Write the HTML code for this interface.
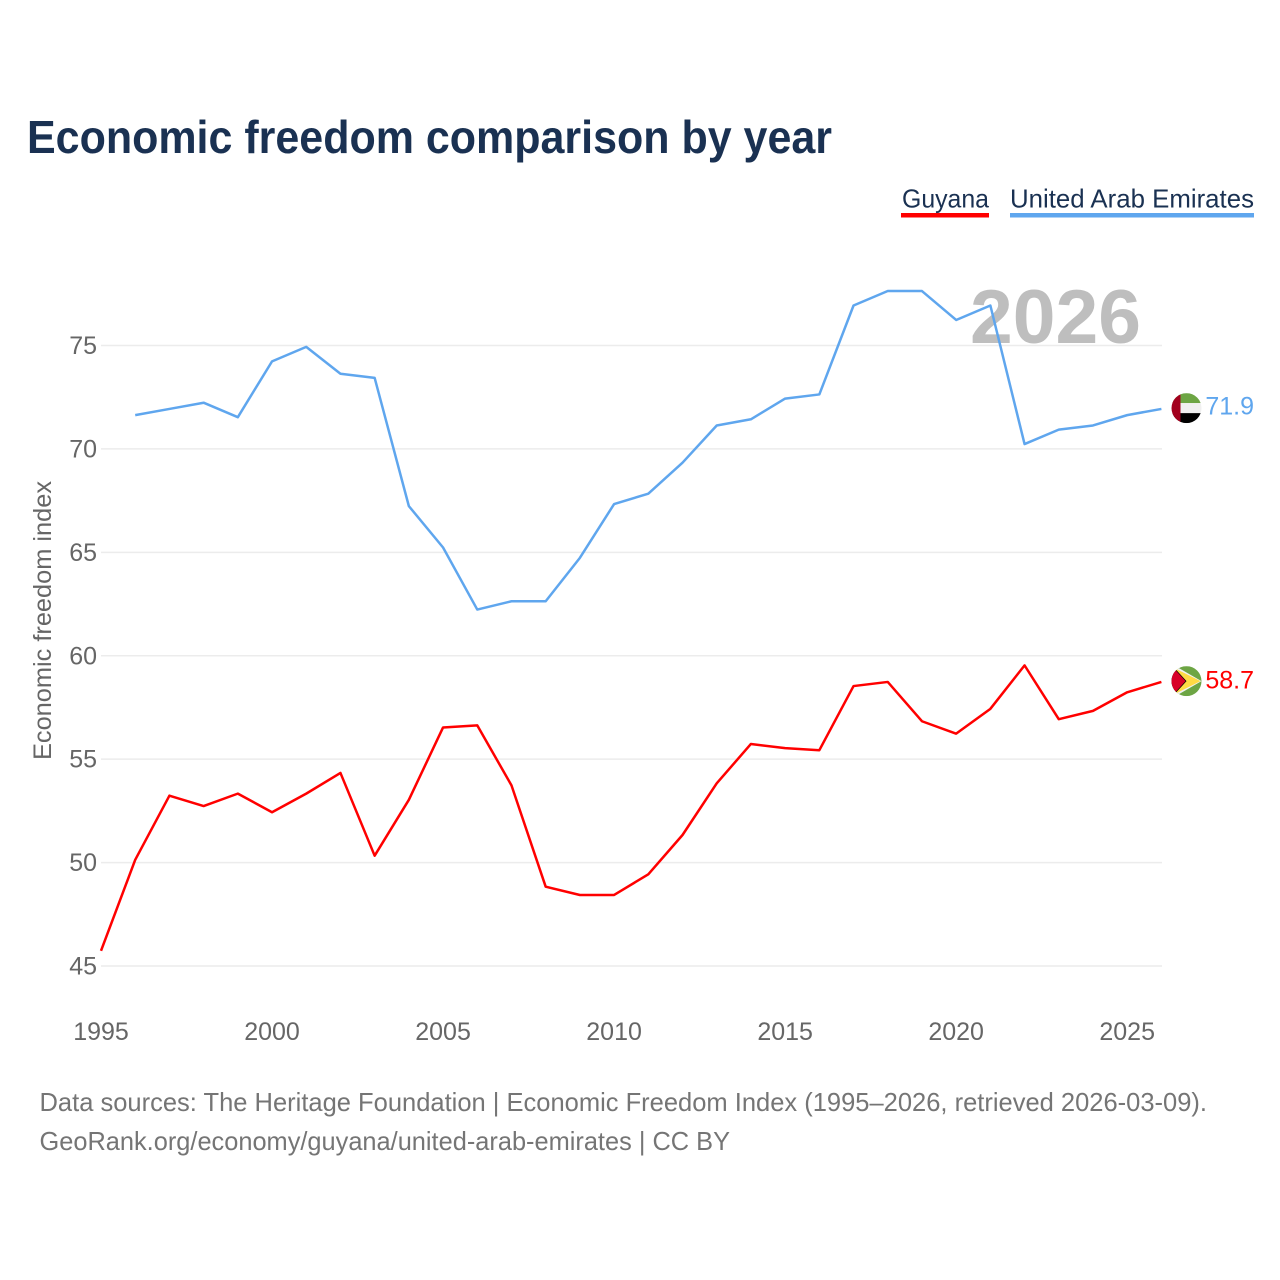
<!DOCTYPE html>
<html lang="en">
<head>
<meta charset="utf-8">
<title>Economic freedom comparison by year</title>
<style>
html,body{margin:0;padding:0;background:#fff;}
svg{display:block;font-family:"Liberation Sans",Arial,sans-serif;}
</style>
</head>
<body>
<svg id="chart" xmlns="http://www.w3.org/2000/svg" width="1280" height="1280" viewBox="0 0 1280 1280">
  <rect x="0" y="0" width="1280" height="1280" fill="#ffffff"/>
  <text x="27" y="153" font-size="46" font-weight="700" fill="#1a3152" textLength="805" lengthAdjust="spacingAndGlyphs">Economic freedom comparison by year</text>

  <g>
    <text x="902" y="207.5" font-size="26" fill="#1a3152" textLength="87" lengthAdjust="spacingAndGlyphs">Guyana</text>
    <rect x="901" y="213" width="88" height="4.5" fill="#ff0000"/>
  </g>
  <g>
    <text x="1010" y="207.5" font-size="26" fill="#1a3152" textLength="244" lengthAdjust="spacingAndGlyphs">United Arab Emirates</text>
    <rect x="1010" y="213" width="244" height="4.5" fill="#5fa6ee"/>
  </g>

  <g id="grid"></g>
  <text x="970" y="343" font-size="76" font-weight="700" fill="#bebebe" textLength="171" lengthAdjust="spacingAndGlyphs">2026</text>
  <g id="yticks"></g>
  <g id="xticks"></g>
  <text transform="translate(51,620.5) rotate(-90)" font-size="25" fill="#666666" text-anchor="middle" textLength="279" lengthAdjust="spacingAndGlyphs">Economic freedom index</text>
  <g id="lines"></g>

  <defs>
    <clipPath id="clip-flag"><circle cx="0" cy="0" r="15"/></clipPath>
  </defs>

  <g id="flag-uae">
    <g clip-path="url(#clip-flag)">
      <rect x="-15" y="-15" width="30" height="10" fill="#6da544"/>
      <rect x="-15" y="-5" width="30" height="10" fill="#f0f0f0"/>
      <rect x="-15" y="5" width="30" height="10" fill="#000000"/>
      <rect x="-15" y="-15" width="9" height="30" fill="#a2001d"/>
    </g>
  </g>
  <g id="flag-guyana">
    <g clip-path="url(#clip-flag)">
      <rect x="-15" y="-15" width="30" height="30" fill="#6da544"/>
      <polygon points="-15,-15 -11,-15 15,0 -11,15 -15,15" fill="#f0f0f0"/>
      <polygon points="-12,-13 14,0 -12,13" fill="#ffda44"/>
      <polygon points="-15,-13 -11,-12 0,0 -11,12 -15,13" fill="#000000"/>
      <polygon points="-15,-11 -11,-11 -1,0 -11,11 -15,11" fill="#d80027"/>
    </g>
  </g>
  <text id="value-uae" x="1254" font-size="25" fill="#5fa6ee" text-anchor="end"></text>
  <text id="value-guyana" x="1254" font-size="25" fill="#ff0000" text-anchor="end"></text>

  <text x="39.5" y="1111" font-size="26" fill="#757575" textLength="1167.5" lengthAdjust="spacingAndGlyphs">Data sources: The Heritage Foundation | Economic Freedom Index (1995–2026, retrieved 2026-03-09).</text>
  <text x="39.5" y="1150" font-size="26" fill="#757575" textLength="690.5" lengthAdjust="spacingAndGlyphs">GeoRank.org/economy/guyana/united-arab-emirates | CC BY</text>
</svg>
<script>
const years = [1995,1996,1997,1998,1999,2000,2001,2002,2003,2004,2005,2006,2007,2008,2009,2010,2011,2012,2013,2014,2015,2016,2017,2018,2019,2020,2021,2022,2023,2024,2025,2026];
const guyanaValues = [45.7,50.1,53.2,52.7,53.3,52.4,53.3,54.3,50.3,53.0,56.5,56.6,53.7,48.8,48.4,48.4,49.4,51.3,53.8,55.7,55.5,55.4,58.5,58.7,56.8,56.2,57.4,59.5,56.9,57.3,58.2,58.7];
const uaeValues = [null,71.6,71.9,72.2,71.5,74.2,74.9,73.6,73.4,67.2,65.2,62.2,62.6,62.6,64.7,67.3,67.8,69.3,71.1,71.4,72.4,72.6,76.9,77.6,77.6,76.2,76.9,70.2,70.9,71.1,71.6,71.9];
const yTickValues = [45,50,55,60,65,70,75];
const xTickValues = [1995,2000,2005,2010,2015,2020,2025];

const NS = 'http://www.w3.org/2000/svg';
function xScale(year){ return 101 + (year - 1995) * (1161.4 - 101) / 31; }
function yScale(value){ return 966 - (value - 45) * (966 - 345.5) / 30; }
const LINE_DY = -0.7;

const gridGroup = document.getElementById('grid');
const yTickGroup = document.getElementById('yticks');
yTickValues.forEach(function(v){
  const line = document.createElementNS(NS, 'line');
  
  
  line.setAttribute('x1', 101);
  line.setAttribute('x2', 1162);
  line.setAttribute('y1', yScale(v));
  line.setAttribute('y2', yScale(v));
  line.setAttribute('stroke', '#ececec');
  line.setAttribute('stroke-width', 1.5);
  gridGroup.appendChild(line);

  const label = document.createElementNS(NS, 'text');
  
  
  label.setAttribute('x', 97);
  label.setAttribute('y', yScale(v) + 8.5);
  label.setAttribute('font-size', 25);
  label.setAttribute('fill', '#666666');
  label.setAttribute('text-anchor', 'end');
  label.textContent = v;
  yTickGroup.appendChild(label);
});

const xTickGroup = document.getElementById('xticks');
xTickValues.forEach(function(y){
  const label = document.createElementNS(NS, 'text');
  
  
  label.setAttribute('x', xScale(y));
  label.setAttribute('y', 1040);
  label.setAttribute('font-size', 25);
  label.setAttribute('fill', '#666666');
  label.setAttribute('text-anchor', 'middle');
  label.textContent = y;
  xTickGroup.appendChild(label);
});

function pathFor(values){
  let d = '';
  values.forEach(function(v, i){
    if (v === null) return;
    d += (d === '' ? 'M' : 'L') + xScale(years[i]).toFixed(2) + ' ' + (yScale(v) + LINE_DY).toFixed(2) + ' ';
  });
  return d.trim();
}

const linesGroup = document.getElementById('lines');

const guyanaLine = document.createElementNS(NS, 'path');


guyanaLine.setAttribute('d', pathFor(guyanaValues));
guyanaLine.setAttribute('fill', 'none');
guyanaLine.setAttribute('stroke', '#ff0000');
guyanaLine.setAttribute('stroke-width', 2.5);
guyanaLine.setAttribute('stroke-linejoin', 'round');
linesGroup.appendChild(guyanaLine);

const uaeLine = document.createElementNS(NS, 'path');


uaeLine.setAttribute('d', pathFor(uaeValues));
uaeLine.setAttribute('fill', 'none');
uaeLine.setAttribute('stroke', '#5fa6ee');
uaeLine.setAttribute('stroke-width', 2.5);
uaeLine.setAttribute('stroke-linejoin', 'round');
linesGroup.appendChild(uaeLine);

const lastGuyana = guyanaValues[guyanaValues.length - 1];
const lastUae = uaeValues[uaeValues.length - 1];
document.getElementById('flag-guyana').setAttribute('transform', 'translate(1186.5,' + (yScale(lastGuyana) - 1.5) + ')');
document.getElementById('flag-uae').setAttribute('transform', 'translate(1186.5,' + (yScale(lastUae) - 1.5) + ')');
const guyanaLabel = document.getElementById('value-guyana');
guyanaLabel.setAttribute('y', yScale(lastGuyana) + 6);
guyanaLabel.textContent = lastGuyana.toFixed(1);
const uaeLabel = document.getElementById('value-uae');
uaeLabel.setAttribute('y', yScale(lastUae) + 5);
uaeLabel.textContent = lastUae.toFixed(1);
</script>
</body>
</html>
